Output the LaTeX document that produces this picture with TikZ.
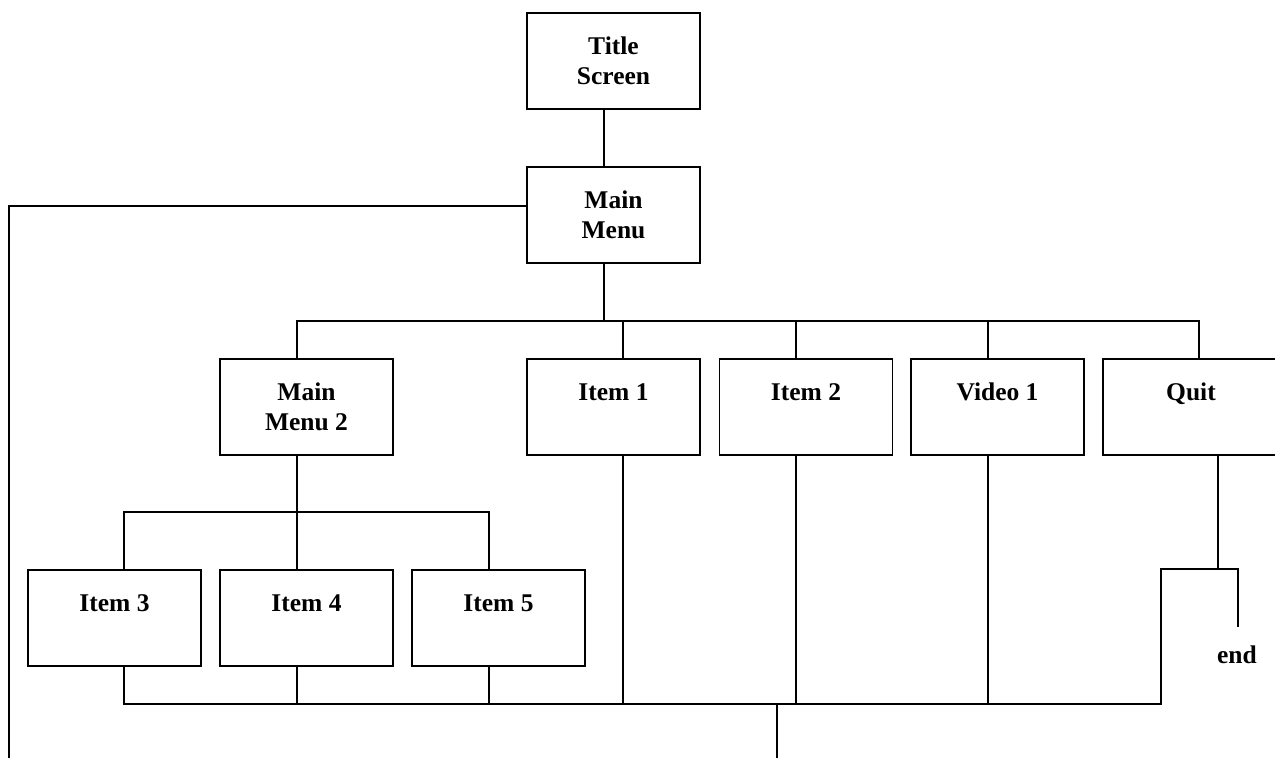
\documentclass[tikz,border=0pt]{standalone}
\usepackage{fontspec}
\setmainfont{Liberation Serif}
\begin{document}
\begin{tikzpicture}[x=1pt,y=-1pt,
  line width=1.6pt,
  boxnode/.style={draw, rectangle, minimum width=173pt, minimum height=96pt, inner sep=0pt,
    align=center, font=\bfseries\fontsize{25.5}{30}\selectfont},
  plain/.style={inner sep=0pt, font=\bfseries\fontsize{25.5}{30}\selectfont}]
\useasboundingbox (0,0) rectangle (1275,758);
\clip (0,0) rectangle (1275,758);
% nodes
\node[boxnode] (title) at (613.5,61) {Title\\Screen};
\node[boxnode] (main) at (613.5,215) {Main\\Menu};
\node[boxnode] (mm2) at (306.5,407) {Main\\Menu 2};
\node[boxnode] (item1) at (613.5,407) {Item 1\\\mbox{}};
\node[boxnode] (item2) at (806,407) {Item 2\\\mbox{}};
\node[boxnode] (video) at (997.5,407) {Video 1\\\mbox{}};
\node[boxnode, minimum width=176pt] (quit) at (1191,407) {Quit\\\mbox{}};
\node[boxnode] (item3) at (114.5,618) {Item 3\\\mbox{}};
\node[boxnode] (item4) at (306.5,618) {Item 4\\\mbox{}};
\node[boxnode] (item5) at (498.5,618) {Item 5\\\mbox{}};
\node[plain] (end) at (1237,655) {end};
% junction coordinates
\coordinate (k1) at (604,321);
\coordinate (b1L) at (297,321);
\coordinate (b1R) at (1199,321);
\coordinate (x623) at (623,321);
\coordinate (x796) at (796,321);
\coordinate (x988) at (988,321);
\coordinate (lft) at (9,758);
\coordinate (b2) at (297,512);
\coordinate (b2L) at (124,512);
\coordinate (b2R) at (489,512);
\coordinate (b3) at (777,704);
\coordinate (stem) at (777,758);
\coordinate (q1) at (1218,569);
\coordinate (qL) at (1161,569);
\coordinate (qR) at (1238,569);
\coordinate (eT) at (1238,627);
% connectors
\draw (title.south -| k1) -- (main.north -| k1);
\draw (main.south -| k1) -- (k1);
\draw ([yshift=9pt]main.west) -| (lft);
\draw (mm2.north -| b1L) |- (b1R) -- (quit.north -| b1R);
\draw (x623) -- (item1.north -| x623);
\draw (x796) -- (item2.north -| x796);
\draw (x988) -- (video.north -| x988);
\draw (item1.south -| x623) -- (x623 |- b3);
\draw (item2.south -| x796) -- (x796 |- b3);
\draw (video.south -| x988) -- (x988 |- b3);
\draw (mm2.south -| b2) -- (b2);
\draw (item3.north -| b2L) |- (b2R) -- (item5.north -| b2R);
\draw (b2) -- (item4.north -| b2);
\draw (item3.south -| b2L) |- (qL |- b3) -- (qL) -- (qR) -- (eT);
\draw (item4.south -| b2) -- (b2 |- b3);
\draw (item5.south -| b2R) -- (b2R |- b3);
\draw (quit.south -| q1) -- (q1);
\draw (b3) -- (stem);
\end{tikzpicture}
\end{document}
